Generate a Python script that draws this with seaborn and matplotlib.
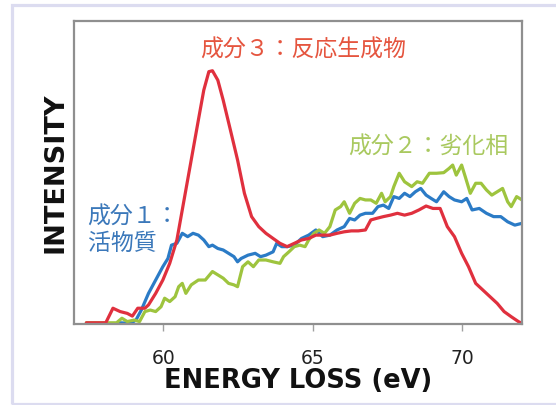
import matplotlib
matplotlib.use("Agg")
import matplotlib.pyplot as plt
import matplotlib.patches as mpatches
import numpy as np
import pandas as pd
import seaborn as sns

# Component spectra (energy loss in eV, intensity in arbitrary units)
red_energy = [57.42, 58.07, 58.31, 58.55, 58.79, 58.96, 59.14, 59.38, 59.50, 59.74,
              59.98, 60.21, 60.45, 60.69, 60.93, 61.17, 61.35, 61.52, 61.64, 61.82,
              62.00, 62.24, 62.48, 62.71, 62.95, 63.19, 63.43, 63.67, 63.90, 64.14,
              64.38, 64.62, 64.86, 65.10, 65.33, 65.57, 65.81, 66.05, 66.29, 66.52,
              66.76, 66.94, 67.12, 67.36, 67.60, 67.83, 68.07, 68.31, 68.55, 68.79,
              69.02, 69.26, 69.50, 69.74, 69.98, 70.21, 70.45, 70.69, 70.93, 71.17,
              71.40, 71.64, 71.88, 72.00]
red_intensity = [0.4, 0.4, 5.2, 4.1, 3.5, 2.6, 5.2, 5.2, 6.3, 10.1,
                 14.5, 20.0, 27.7, 40.9, 54.1, 67.3, 77.1, 83.2, 83.5, 80.4,
                 73.8, 64.0, 54.1, 43.1, 35.4, 32.1, 29.9, 28.2, 26.6, 25.5,
                 26.6, 27.7, 28.2, 29.3, 29.3, 29.3, 29.9, 30.4, 30.7, 30.7,
                 31.0, 34.3, 34.8, 35.4, 35.9, 36.5, 35.9, 36.5, 37.6, 38.9,
                 38.1, 38.1, 32.1, 28.8, 23.3, 18.9, 13.4, 11.2, 9.0, 6.8,
                 4.1, 2.4, 0.8, 0.2]

blue_energy = [58.55, 58.90, 59.08, 59.26, 59.50, 59.74, 59.98, 60.15, 60.27, 60.45,
               60.63, 60.81, 60.99, 61.17, 61.35, 61.52, 61.64, 61.82, 62.00, 62.18,
               62.36, 62.48, 62.60, 62.83, 63.07, 63.25, 63.43, 63.67, 63.79, 63.96,
               64.14, 64.38, 64.62, 64.86, 65.10, 65.33, 65.57, 65.81, 66.05, 66.23,
               66.40, 66.58, 66.76, 67.00, 67.18, 67.36, 67.54, 67.71, 67.89, 68.07,
               68.25, 68.43, 68.61, 68.79, 68.96, 69.14, 69.38, 69.56, 69.74, 69.98,
               70.15, 70.33, 70.57, 70.81, 71.05, 71.29, 71.52, 71.76, 72.00]
blue_intensity = [0.4, 0.2, 1.3, 4.6, 10.1, 14.5, 18.9, 21.6, 26.0, 26.6,
                  29.9, 28.8, 29.9, 29.3, 27.7, 25.5, 26.0, 24.9, 24.4, 23.3,
                  22.2, 20.5, 21.6, 22.7, 23.3, 22.2, 22.7, 23.8, 26.6, 25.5,
                  25.5, 26.0, 28.2, 29.3, 31.0, 28.8, 29.3, 31.0, 32.1, 34.8,
                  34.3, 35.9, 36.5, 36.5, 38.7, 39.2, 38.1, 42.0, 41.4, 43.1,
                  42.0, 43.6, 44.7, 42.5, 41.4, 40.3, 43.6, 42.0, 40.9, 40.3,
                  41.4, 37.6, 38.1, 36.5, 35.4, 35.4, 33.7, 32.6, 33.2]

green_energy = [57.42, 58.43, 58.61, 58.79, 59.02, 59.20, 59.38, 59.56, 59.74, 59.92,
                60.04, 60.21, 60.39, 60.51, 60.63, 60.75, 60.93, 61.17, 61.40, 61.64,
                61.82, 62.00, 62.18, 62.36, 62.48, 62.65, 62.83, 63.01, 63.19, 63.43,
                63.67, 63.90, 64.02, 64.20, 64.38, 64.56, 64.74, 64.86, 65.04, 65.21,
                65.39, 65.57, 65.75, 65.93, 66.05, 66.23, 66.40, 66.58, 66.76, 66.94,
                67.12, 67.30, 67.42, 67.60, 67.71, 67.89, 68.07, 68.31, 68.49, 68.67,
                68.90, 69.14, 69.38, 69.56, 69.68, 69.80, 69.98, 70.10, 70.27, 70.45,
                70.63, 70.81, 70.99, 71.17, 71.35, 71.52, 71.64, 71.82, 72.00]
green_intensity = [0.4, 0.4, 1.9, 0.8, 1.3, 0.8, 4.1, 4.6, 4.1, 5.7,
                   8.5, 7.4, 9.0, 12.3, 13.4, 10.1, 12.9, 14.5, 14.5, 17.3,
                   16.2, 15.1, 13.4, 12.9, 12.3, 18.9, 20.5, 18.9, 21.1, 21.1,
                   20.5, 20.0, 22.2, 23.8, 25.5, 26.0, 25.5, 27.7, 29.9, 31.0,
                   29.9, 32.1, 37.6, 38.7, 40.3, 36.5, 39.8, 41.4, 40.9, 40.9,
                   39.8, 43.1, 40.3, 42.0, 45.3, 49.7, 46.9, 45.3, 46.9, 46.4,
                   49.7, 49.7, 49.9, 51.3, 52.4, 49.1, 52.4, 48.6, 43.1, 46.4,
                   46.4, 44.2, 42.5, 43.6, 44.7, 40.3, 38.7, 42.0, 40.9]

component_names = ["成分１：活物質", "成分２：劣化相", "成分３：反応生成物"]
line_colors = ["#2B7BC6", "#9EC43E", "#E0303E"]
text_colors = ["#3B78BA", "#A9C95F", "#E5553F"]
x_ticks = [60, 65, 70]

df = pd.concat([
    pd.DataFrame({"energy": blue_energy, "intensity": blue_intensity, "component": component_names[0]}),
    pd.DataFrame({"energy": green_energy, "intensity": green_intensity, "component": component_names[1]}),
    pd.DataFrame({"energy": red_energy, "intensity": red_intensity, "component": component_names[2]}),
])

sns.set_theme(style="white")
plt.rcParams["font.family"] = ["DejaVu Sans", "Noto Sans CJK JP"]

W, H = 556, 405
fig = plt.figure(figsize=(W / 100, H / 100), dpi=100)
fig.patch.set_facecolor("white")

# light frame around the whole figure
frame = mpatches.Rectangle((11.5 / W, 1.5 / H), 1.2, (403.5 - 1.5 - 3.0) / H,
                           transform=fig.transFigure, fill=False,
                           edgecolor="#DCDCF0", linewidth=2.3, clip_on=False)
fig.patches.append(frame)

ax = fig.add_axes([73.8 / W, 1 - 324 / H, (522 - 73.8) / W, (324 - 20.7) / H])

sns.lineplot(data=df, x="energy", y="intensity", hue="component",
             hue_order=component_names, palette=line_colors, linewidth=2.3,
             legend=False, ax=ax, sort=False, estimator=None)

ax.set_xlim(57, 72)
ax.set_ylim(0, 100)
ax.set_xticks(x_ticks)
ax.set_xticklabels([str(t) for t in x_ticks], fontsize=13.5, color="#222222")
ax.set_yticks([])
ax.tick_params(axis="x", direction="out", length=5, width=1, color="#A0A0A0",
               pad=13, bottom=True)
for s in ax.spines.values():
    s.set_color("#8F8F8F")
    s.set_linewidth(1.6)

ax.set_xlabel("ENERGY LOSS (eV)", fontsize=18.5, fontweight="bold",
              color="#111111", labelpad=0)
ax.set_ylabel("INTENSITY", fontsize=19.5, fontweight="bold",
              color="#111111", labelpad=4)

cjk = ["Noto Sans CJK JP", "DejaVu Sans"]
ax.text(64.67, 90.4, "成分３：反応生成物", color=text_colors[2], fontsize=16.5,
        ha="center", va="center", family=cjk)
ax.text(68.85, 58.4, "成分２：劣化相", color=text_colors[1], fontsize=16.5,
        ha="center", va="center", family=cjk)
ax.text(57.46, 35.3, "成分１：", color=text_colors[0], fontsize=16.5,
        ha="left", va="center", family=cjk)
ax.text(57.46, 26.7, "活物質", color=text_colors[0], fontsize=16.5,
        ha="left", va="center", family=cjk)

fig.savefig("out.png", dpi=100, facecolor="white")
